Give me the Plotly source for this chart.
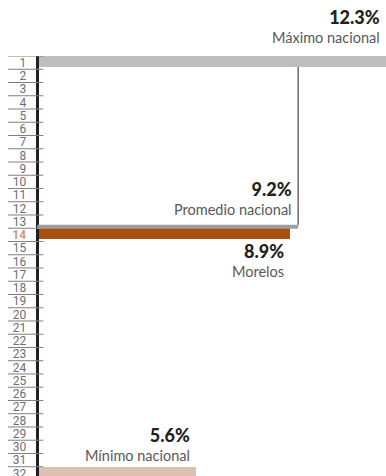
import plotly.graph_objects as go

# ---- data ----
ranks = list(range(1, 33))
bar_ranks = [1, 14, 32]
bar_values = [12.3, 8.9, 5.6]
bar_names = ["Máximo nacional", "Morelos", "Mínimo nacional"]
bar_colors = ["#bcbec0", "#a9500e", "#dcc1b3"]
promedio_value = 9.2
promedio_name = "Promedio nacional"
highlight_rank = 14

W, H = 386, 476
BAR_W = 0.83
axis_px = 37.3
x_max = max(bar_values)
scale = (W - axis_px) / x_max
x_min = -axis_px / scale

tick_text = []
for r in ranks:
    if r == highlight_rank:
        tick_text.append(f"<b><span style='color:#d8977b'>{r}</span></b>")
    else:
        tick_text.append(str(r))

fig = go.Figure()
fig.add_trace(go.Bar(
    x=bar_values, y=bar_ranks, orientation="h",
    width=BAR_W, offset=-0.5,
    marker=dict(color=bar_colors, line=dict(width=0)),
    hoverinfo="skip", showlegend=False,
))

shapes = []
# row separator lines at the left
for b in [0.5] + [r + 0.5 for r in ranks]:
    shapes.append(dict(type="line", xref="x", yref="y",
                       x0=x_min + 8 / scale, x1=6 / scale, y0=b, y1=b,
                       line=dict(color="#7f7f7f", width=1), layer="above"))
# promedio line
shapes.append(dict(type="line", xref="x", yref="y",
                   x0=0, x1=promedio_value,
                   y0=highlight_rank - 0.62, y1=highlight_rank - 0.62,
                   line=dict(color="#9d9d9d", width=4), layer="above"))
# vertical reference line at promedio
shapes.append(dict(type="line", xref="x", yref="y",
                   x0=promedio_value, x1=promedio_value,
                   y0=bar_ranks[0] - 0.5 + BAR_W, y1=highlight_rank - 0.75,
                   line=dict(color="#231f20", width=1), layer="above"))

lab_font = dict(family="Lato, Open Sans, sans-serif", size=14.5, color="#58595b")

ann = []
def add_pair(xv, yv, txt_val, txt_lab, sh):
    text = (f"<span style='font-size:18px;font-weight:900;color:#231f20'>"
            f"{txt_val}</span><br>{txt_lab}")
    ann.append(dict(x=xv, y=yv, xref="x", yref="y", text=text,
                    showarrow=False, xanchor="right", yanchor="middle",
                    align="right", xshift=-4, yshift=sh, font=lab_font))

add_pair(bar_values[0], bar_ranks[0], f"{bar_values[0]}%", bar_names[0], 36.5)
add_pair(promedio_value, highlight_rank - 0.5, f"{promedio_value}%", promedio_name, 30.5)
add_pair(bar_values[1], bar_ranks[1], f"{bar_values[1]}%", bar_names[1], -25)
add_pair(bar_values[2], bar_ranks[2], f"{bar_values[2]}%", bar_names[2], 29.75)

fig.update_layout(
    width=W, height=H,
    margin=dict(l=0, r=0, t=56, b=0, pad=0, autoexpand=False),
    paper_bgcolor="white", plot_bgcolor="white",
    shapes=shapes, annotations=ann,
    bargap=0,
    xaxis=dict(range=[x_min, x_max], visible=False, fixedrange=True,
               automargin=False),
    yaxis=dict(range=[32.2, 0.5], anchor="free", position=axis_px / W,
               showline=True, linecolor="#231f20", linewidth=2.5,
               showgrid=False, zeroline=False, ticks="", automargin=False,
               tickvals=ranks, ticktext=tick_text, ticklabelstandoff=8,
               ticklabeloverflow="allow",
               tickfont=dict(family="Liberation Sans Narrow, Roboto, sans-serif",
                             size=12, color="#6d6e71"),
               fixedrange=True),
)

fig.write_html(
    "out.html",
    config={"displayModeBar": False},
    post_script="document.body.style.margin='0';document.body.style.overflow='hidden';",
)
